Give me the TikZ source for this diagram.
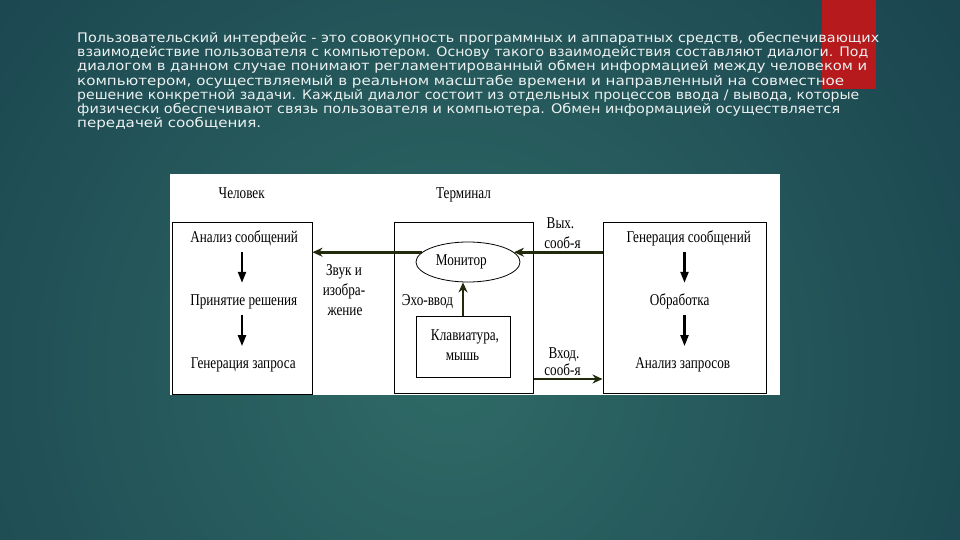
\documentclass[tikz,border=0pt]{standalone}
\usepackage{fontspec}
\usepackage{graphicx}
\setmainfont{DejaVu Sans}
\newfontfamily\dgfont[FakeStretch=0.8]{Liberation Serif}
\usetikzlibrary{shapes.geometric,arrows.meta}
\definecolor{bgdark}{RGB}{18,54,70}
\definecolor{bglight}{RGB}{47,106,102}
\definecolor{redbar}{RGB}{183,26,28}
\definecolor{txt}{RGB}{236,241,241}
\definecolor{olive}{RGB}{34,42,14}
\tikzset{
  titleline/.style={anchor=base west, inner sep=0pt, text=txt, font=\fontsize{13.2}{15}\selectfont},
  dtext/.style={anchor=base, inner sep=0pt, text=black, font=\dgfont\fontsize{16.5}{19}\selectfont, text height=10pt, text depth=3pt},
  frame/.style={draw=black, line width=1pt, inner sep=0pt, fill=none},
  varrow/.style={-{Triangle[length=11pt,width=8pt]}, line width=2.2pt, black},
  harrow/.style={-{Stealth[length=10pt,width=9pt]}, line width=2.7pt, olive},
}
\begin{document}
\begin{tikzpicture}[x=1pt,y=-1pt]
\useasboundingbox (0,0) rectangle (960,540);
% background
\begin{scope}
\clip (0,0) rectangle (960,540);
\fill[bgdark] (0,0) rectangle (960,540);
\shade[inner color=bglight, outer color=bgdark] (450,370) circle (880);
\end{scope}
\fill[redbar] (822,0) rectangle (876,89);
% title text
\node[titleline] (t1) at (77,42.5) {\resizebox{802pt}{\height}{Пользовательский интерфейс - это совокупность программных и аппаратных средств, обеспечивающих}};
\node[titleline] (t2) at (77,56.7) {\resizebox{791pt}{\height}{взаимодействие пользователя с компьютером. Основу такого взаимодействия составляют диалоги. Под}};
\node[titleline] (t3) at (77,70.9) {\resizebox{790pt}{\height}{диалогом в данном случае понимают регламентированный обмен информацией между человеком и}};
\node[titleline] (t4) at (77,85.1) {\resizebox{767pt}{\height}{компьютером, осуществляемый в реальном масштабе времени и направленный на совместное}};
\node[titleline] (t5) at (77,99.3) {\resizebox{782pt}{\height}{решение конкретной задачи. Каждый диалог состоит из отдельных процессов ввода / вывода, которые}};
\node[titleline] (t6) at (77,113.5) {\resizebox{763pt}{\height}{физически обеспечивают связь пользователя и компьютера. Обмен информацией осуществляется}};
\node[titleline] (t7) at (77,127.7) {\resizebox{184pt}{\height}{передачей сообщения.}};
% diagram panel
\fill[white] (170,174) rectangle (780,395);
% boxes
\node[frame, minimum width=140pt, minimum height=172pt] (L) at (242,308) {};
\node[frame, minimum width=139pt, minimum height=171pt] (T) at (463.5,307.5) {};
\node[frame, minimum width=163pt, minimum height=171.5pt] (R) at (684.5,307.75) {};
\node[frame, minimum width=94pt, minimum height=61pt] (K) at (463,346.5) {};
\node[draw=black, line width=0.8pt, ellipse, minimum width=104pt, minimum height=40pt, inner sep=0pt] (mon) at (468,262) {};
% texts
\node[dtext] (chel) at (241.7,198.3) {Человек};
\node[dtext] (term) at (463.5,198.3) {Терминал};
\node[dtext] (a1) at (244.2,242.7) {Анализ сообщений};
\node[dtext] (a2) at (243.8,305) {Принятие решения};
\node[dtext] (a3) at (243.3,368.3) {Генерация запроса};
\node[dtext] (zv1) at (344,275) {Звук и};
\node[dtext] (zv2) at (344,295) {изобра-};
\node[dtext] (zv3) at (345,315) {жение};
\node[dtext] (echo) at (427.5,305) {Эхо-ввод};
\node[dtext] (monT) at (461.3,265) {Монитор};
\node[dtext] (k1) at (465,340) {Клавиатура,};
\node[dtext] (k2) at (462.5,360) {мышь};
\node[dtext] (out1) at (560.5,228.3) {Вых.};
\node[dtext] (out2) at (562.5,248.3) {сооб-я};
\node[dtext] (in1) at (564,358.3) {Вход.};
\node[dtext] (in2) at (562.5,375) {сооб-я};
\node[dtext] (b1) at (688.7,242.7) {Генерация сообщений};
\node[dtext] (b2) at (679.7,305) {Обработка};
\node[dtext] (b3) at (682.7,368.3) {Анализ запросов};
% vertical arrows
\draw[varrow, shorten <=6.3pt, shorten >=12pt] (a1.south -| L.center) -- (a2.north -| L.center);
\draw[varrow, shorten <=6.3pt, shorten >=12pt] (a2.south -| L.center) -- (a3.north -| L.center);
\draw[varrow, shorten <=6.3pt, shorten >=12pt] (b1.south -| R.center) -- (b2.north -| R.center);
\draw[varrow, shorten <=6.3pt, shorten >=12pt] (b2.south -| R.center) -- (b3.north -| R.center);
% horizontal arrows
\coordinate (inY) at (0,379);
\draw[harrow] (mon.168) -- (L.east |- mon.168);
\draw[harrow] (R.west |- mon.12) -- (mon.12);
\draw[harrow] (T.east |- inY) -- (R.west |- inY);
\draw[harrow, line width=2.4pt] (K.north) -- (K.north |- mon.south);
\end{tikzpicture}
\end{document}
